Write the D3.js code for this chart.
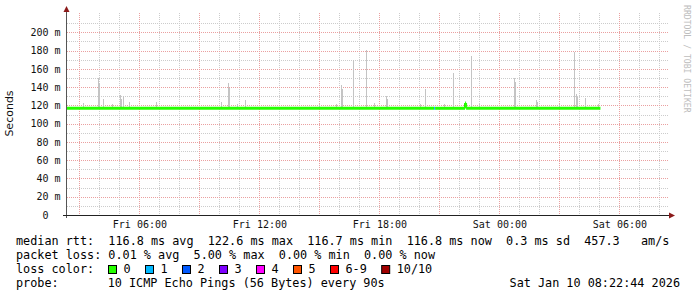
<!DOCTYPE html>
<html>
<head>
<meta charset="utf-8">
<script src="https://cdn.jsdelivr.net/npm/d3@7"></script>
<style>
  body { margin: 0; background: #fff; }
  text { font-family: "DejaVu Sans Mono", monospace; }
  .pre { white-space: pre; }
</style>
</head>
<body>
<div id="chart"></div>
<script>
// time window (30 hours)
const startTime = "2026-01-09 02:22:44";
const endTime = "2026-01-10 08:22:44";

const yTicks = [0, 20, 40, 60, 80, 100, 120, 140, 160, 180, 200];

// smoke spikes: time and highest ping (ms)
const smokeTimes = [
  "2026-01-09 03:11", "2026-01-09 03:56", "2026-01-09 03:59", "2026-01-09 04:11",
  "2026-01-09 04:38", "2026-01-09 05:02", "2026-01-09 05:05", "2026-01-09 05:11",
  "2026-01-09 05:29", "2026-01-09 06:50", "2026-01-09 10:05", "2026-01-09 10:26",
  "2026-01-09 10:29", "2026-01-09 10:53", "2026-01-09 11:17", "2026-01-09 14:59",
  "2026-01-09 15:50", "2026-01-09 16:05", "2026-01-09 16:08", "2026-01-09 16:41",
  "2026-01-09 17:20", "2026-01-09 17:44", "2026-01-09 18:20", "2026-01-09 18:23",
  "2026-01-09 20:02", "2026-01-09 20:17", "2026-01-09 21:14", "2026-01-09 21:41",
  "2026-01-09 22:35", "2026-01-09 22:59", "2026-01-10 00:44", "2026-01-10 00:47",
  "2026-01-10 01:50", "2026-01-10 01:53", "2026-01-10 02:59", "2026-01-10 03:44",
  "2026-01-10 03:50", "2026-01-10 03:53", "2026-01-10 04:17", "2026-01-10 04:56"
];
const smokeTops = [
  122.5, 150, 145, 127,
  121.5, 131, 127, 130,
  124, 124, 124, 144.5,
  139, 121, 126, 121,
  121, 142, 138, 170,
  180.5, 122.5, 130, 127,
  121, 138, 121, 155.5,
  174, 121, 150, 145.5,
  126, 124, 121, 178.5,
  132, 129, 128, 121
];
const smokeBase = 116;

// dark smoke bit near the median max
const darkSmokeTimes = ["2026-01-09 22:14"];
const darkSmokeLow = [116.5];
const darkSmokeHigh = [122];

// median rtt, step series with loss count
const medianTimes = [
  "2026-01-09 02:22", "2026-01-09 20:44", "2026-01-09 20:47",
  "2026-01-09 22:17", "2026-01-09 22:20", "2026-01-10 05:03"
];
const medianValues = [116.8, 116.8, 116.8, 122.6, 116.8, 116.8];
const medianLoss = [0, 1, 0, 0, 0, 0];

const lossLabels = ["0", "1", "2", "3", "4", "5", "6-9", "10/10"];
const lossColors = ["#26ff00", "#00b8ff", "#0059ff", "#7e00ff", "#ff00ff", "#ff5500", "#ff0000", "#a10000"];

const width = 697;
const height = 297;
const margin = {top: 13, right: 30, bottom: 82, left: 67};

const parse = d3.timeParse("%Y-%m-%d %H:%M");
const parseS = d3.timeParse("%Y-%m-%d %H:%M:%S");

const svg = d3.select("#chart")
  .append("svg")
  .attr("width", width)
  .attr("height", height);

const xScale = d3.scaleTime()
  .domain([parseS(startTime), parseS(endTime)])
  .range([margin.left, width - margin.right]);

const yScale = d3.scaleLinear()
  .domain([0, 221.1])
  .range([height - margin.bottom, margin.top]);

const x0 = margin.left, x1 = width - margin.right;
const yBot = height - margin.bottom, yTop = margin.top;

// grid
const grid = svg.append("g");
const hourTicks = xScale.ticks(d3.timeHour.every(1));
grid.selectAll(".vminor")
  .data(hourTicks.filter(d => d.getHours() % 3 !== 0))
  .enter().append("line")
  .attr("x1", d => Math.round(xScale(d)) + 0.5)
  .attr("x2", d => Math.round(xScale(d)) + 0.5)
  .attr("y1", yTop).attr("y2", yBot)
  .attr("stroke", "#cccccc").attr("stroke-dasharray", "1,1");

const yMinor = d3.range(10, 221, 20);
grid.selectAll(".hminor")
  .data(yMinor)
  .enter().append("line")
  .attr("x1", x0).attr("x2", x1 + 2)
  .attr("y1", d => Math.round(yScale(d)) + 0.5)
  .attr("y2", d => Math.round(yScale(d)) + 0.5)
  .attr("stroke", "#cccccc").attr("stroke-dasharray", "1,1");

grid.selectAll(".vmajor")
  .data(hourTicks.filter(d => d.getHours() % 3 === 0))
  .enter().append("line")
  .attr("x1", d => Math.round(xScale(d)) + 0.5)
  .attr("x2", d => Math.round(xScale(d)) + 0.5)
  .attr("y1", yTop).attr("y2", yBot)
  .attr("stroke", "#eaa0a0").attr("stroke-dasharray", "1,1");

grid.selectAll(".hmajor")
  .data(yTicks.filter(d => d > 0))
  .enter().append("line")
  .attr("x1", x0).attr("x2", x1 + 2)
  .attr("y1", d => Math.round(yScale(d)) + 0.5)
  .attr("y2", d => Math.round(yScale(d)) + 0.5)
  .attr("stroke", "#eaa0a0").attr("stroke-dasharray", "1,1");

// smoke
svg.selectAll(".smoke")
  .data(smokeTimes.map((t, i) => ({t: parse(t), top: smokeTops[i]})))
  .enter().append("rect")
  .attr("x", d => Math.round(xScale(d.t)))
  .attr("width", d => Math.max(1, Math.round(xScale(d3.timeMinute.offset(d.t, 3)) - xScale(d.t))))
  .attr("y", d => Math.round(yScale(d.top)))
  .attr("height", d => Math.round(yScale(smokeBase)) - Math.round(yScale(d.top)))
  .attr("fill", "#c4c4c4");

svg.selectAll(".darksmoke")
  .data(darkSmokeTimes.map((t, i) => ({t: parse(t), lo: darkSmokeLow[i], hi: darkSmokeHigh[i]})))
  .enter().append("rect")
  .attr("x", d => Math.round(xScale(d.t)))
  .attr("width", 1)
  .attr("y", d => yScale(d.hi))
  .attr("height", d => yScale(d.lo) - yScale(d.hi))
  .attr("fill", "#1a1a1a");

// median line coloured by loss
const med = medianTimes.map((t, i) => ({t: parse(t), v: medianValues[i], loss: medianLoss[i]}));
const medLine = d3.line()
  .x(d => xScale(d.t))
  .y(d => yScale(d.v))
  .curve(d3.curveStepAfter);
for (let i = 0; i < med.length - 1; i++) {
  svg.append("path")
    .attr("d", medLine([med[i], {t: med[i + 1].t, v: med[i].v}]))
    .attr("fill", "none")
    .attr("stroke", lossColors[med[i].loss])
    .attr("stroke-width", 3);
  if (med[i + 1].v !== med[i].v) {
    svg.append("path")
      .attr("d", medLine([{t: med[i + 1].t, v: med[i].v}, {t: med[i + 1].t, v: med[i + 1].v}]))
      .attr("fill", "none")
      .attr("stroke", lossColors[med[i + 1].loss])
      .attr("stroke-width", 2);
  }
}

// axes lines and arrows
svg.append("line")
  .attr("x1", x0 - 0.5).attr("x2", x0 - 0.5)
  .attr("y1", yTop - 2).attr("y2", yBot + 3)
  .attr("stroke", "#555");
svg.append("line")
  .attr("x1", x0 - 4).attr("x2", x1 + 3)
  .attr("y1", yBot + 0.5).attr("y2", yBot + 0.5)
  .attr("stroke", "#222");
svg.append("path")
  .attr("d", `M${x0 - 3.5},${yTop - 1} L${x0 + 2.5},${yTop - 1} L${x0 - 0.5},${yTop - 7} Z`)
  .attr("fill", "#8b1a1a");
svg.append("path")
  .attr("d", `M${x1 + 2},${yBot - 2.5} L${x1 + 2},${yBot + 3.5} L${x1 + 8},${yBot + 0.5} Z`)
  .attr("fill", "#8b1a1a");

// y axis labels
const yAxis = d3.axisLeft(yScale)
  .tickValues(yTicks)
  .tickSize(0)
  .tickPadding(6)
  .tickFormat(d => d === 0 ? "0" : d + " m");
const yg = svg.append("g")
  .attr("transform", `translate(${x0},0)`)
  .call(yAxis);
yg.select(".domain").remove();
yg.selectAll("text")
  .attr("font-family", "DejaVu Sans Mono")
  .attr("font-size", 10)
  .attr("fill", "#111")
  .attr("x", d => d === 0 ? -18.5 : -6.5);

// x axis labels
const xAxis = d3.axisBottom(xScale)
  .ticks(d3.timeHour.every(6))
  .tickSize(0)
  .tickPadding(6)
  .tickFormat(d3.timeFormat("%a %H:%M"));
const xg = svg.append("g")
  .attr("transform", `translate(0,${yBot})`)
  .call(xAxis);
xg.select(".domain").remove();
xg.selectAll("text")
  .attr("font-family", "DejaVu Sans Mono")
  .attr("font-size", 10)
  .attr("fill", "#111");

// vertical axis title
svg.append("text")
  .attr("transform", `translate(13,113.5) rotate(-90)`)
  .attr("text-anchor", "middle")
  .style("font-family", "'DejaVu Sans', sans-serif")
  .attr("font-size", 11)
  .attr("fill", "#111")
  .text("Seconds");

// watermark
svg.append("text")
  .attr("transform", `translate(684,5) rotate(90)`)
  .attr("font-size", 8.15)
  .attr("fill", "#bdbdbd")
  .text("RRDTOOL / TOBI OETIKER");

// legend
const legendFont = 11.8;
const legend = svg.append("g")
  .attr("font-size", legendFont)
  .attr("fill", "#000");

const addText = (x, y, s) => legend.append("text")
  .attr("class", "pre")
  .attr("xml:space", "preserve")
  .attr("x", x).attr("y", y)
  .text(s);

addText(16, 245, "median rtt:  116.8 ms avg  122.6 ms max  116.7 ms min  116.8 ms now  0.3 ms sd  457.3   am/s");
addText(16, 259, "packet loss: 0.01 % avg  5.00 % max  0.00 % min  0.00 % now");
addText(16, 273, "loss color:");
addText(16, 287, "probe:");
addText(107.7, 287, "10 ICMP Echo Pings (56 Bytes) every 90s");
addText(680, 287, "Sat Jan 10 08:22:44 2026").attr("text-anchor", "end");

const charW = 7.1;
let bx = 108;
lossLabels.forEach((lab, i) => {
  legend.append("rect")
    .attr("x", bx + 0.5).attr("y", 265.5)
    .attr("width", 8).attr("height", 8)
    .attr("fill", lossColors[i])
    .attr("stroke", "#000");
  addText(bx + 15.5, 273, lab);
  bx += 15.5 + lab.length * charW + 14.4;
});
</script>
</body>
</html>
